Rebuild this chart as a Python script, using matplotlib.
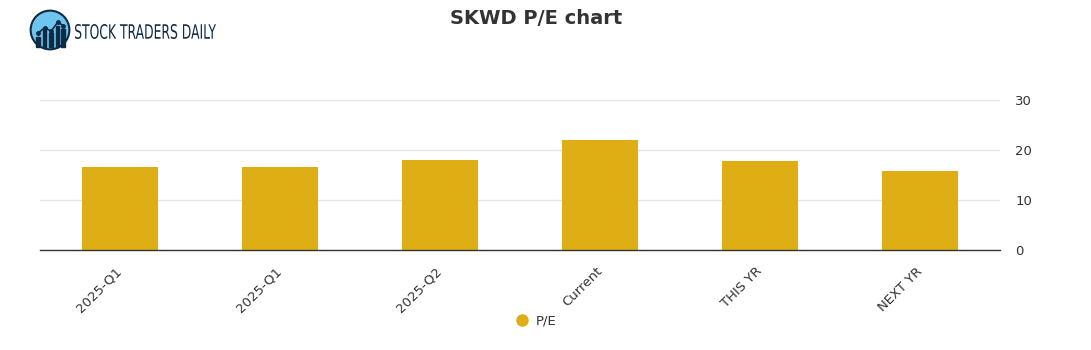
import numpy as np
import matplotlib
matplotlib.use("Agg")
import matplotlib.pyplot as plt
from matplotlib.patches import Circle, Rectangle, PathPatch
from matplotlib.lines import Line2D
from matplotlib.textpath import TextPath
from matplotlib.font_manager import FontProperties
from matplotlib.transforms import Affine2D, IdentityTransform

categories = ["2025-Q1", "2025-Q1", "2025-Q2", "Current", "THIS YR", "NEXT YR"]
pe_values = [16.6, 16.6, 18.0, 22.0, 17.8, 15.8]
y_ticks = [0, 10, 20, 30]

BAR_COLOR = "#dfae14"
TEXT_COLOR = "#333333"

fig = plt.figure(figsize=(10.91, 3.5), dpi=100)
ax = fig.add_axes([40 / 1091, 100 / 350, 960 / 1091, 150 / 350])

x = np.arange(len(categories))
ax.bar(x, pe_values, width=0.475, color=BAR_COLOR, zorder=3)

ax.set_xlim(-0.5, len(categories) - 0.5)
ax.set_ylim(0, 30)
ax.set_yticks(y_ticks)
ax.yaxis.tick_right()
ax.tick_params(axis="y", length=0, pad=11, labelsize=9.5, labelcolor=TEXT_COLOR)
ax.grid(axis="y", color="#e6e6e6", lw=1, zorder=0)

ax.set_xticks(x)
ax.set_xticklabels(categories, rotation=45, ha="right", va="center",
                   rotation_mode="anchor", fontsize=9.5, color=TEXT_COLOR)
ax.tick_params(axis="x", length=0, pad=14)

for s in ["top", "left", "right"]:
    ax.spines[s].set_visible(False)
ax.spines["bottom"].set_color("#333333")
ax.spines["bottom"].set_linewidth(1)
ax.spines["bottom"].set_zorder(4)

fig.text(536 / 1091, 1 - 19 / 350, "SKWD P/E chart", ha="center", va="center",
         fontsize=14, fontweight="bold", color=TEXT_COLOR)

# legend
fig.add_artist(Line2D([522 / 1091], [1 - 320 / 350], marker="o", ms=8, ls="",
                      color=BAR_COLOR, transform=fig.transFigure))
fig.text(536 / 1091, 1 - 321 / 350, "P/E", ha="left", va="center",
         fontsize=9.5, color=TEXT_COLOR)

# logo
lax = fig.add_axes([28 / 1091, 1 - 52 / 350, 44 / 1091, 44 / 350])
lax.set_xlim(-1, 1)
lax.set_ylim(-1, 1)
lax.set_aspect("equal")
lax.axis("off")
lax.add_patch(Circle((0, 0), 0.88, facecolor="#6ec6f0", edgecolor="#0d2b45", lw=1.5))
for bx, bh in zip([-0.55, -0.25, 0.05, 0.35, 0.6], [0.45, 0.75, 0.6, 0.95, 0.8]):
    lax.add_patch(Rectangle((bx - 0.08, -0.75), 0.16, bh, color="#0d2b45"))
lax.plot([-0.55, -0.25, 0.05, 0.35, 0.6], [-0.15, 0.1, -0.05, 0.35, 0.2],
         color="#0d2b45", lw=1.2, marker="o", ms=2.5)

# condensed logo text: squeeze a text path into the pixel box
tp = TextPath((0, 0), "STOCK TRADERS DAILY", size=10,
              prop=FontProperties(family="DejaVu Sans"))
ext = tp.get_extents()
sx = 141 / ext.width
sy = 15 / ext.height
tr = Affine2D().translate(-ext.x0, -ext.y0).scale(sx, sy).translate(75, 350 - 39)
fig.add_artist(PathPatch(tp, transform=tr + IdentityTransform(),
                         facecolor="#0d2b45", edgecolor="none"))

fig.savefig("out.png", dpi=100)
